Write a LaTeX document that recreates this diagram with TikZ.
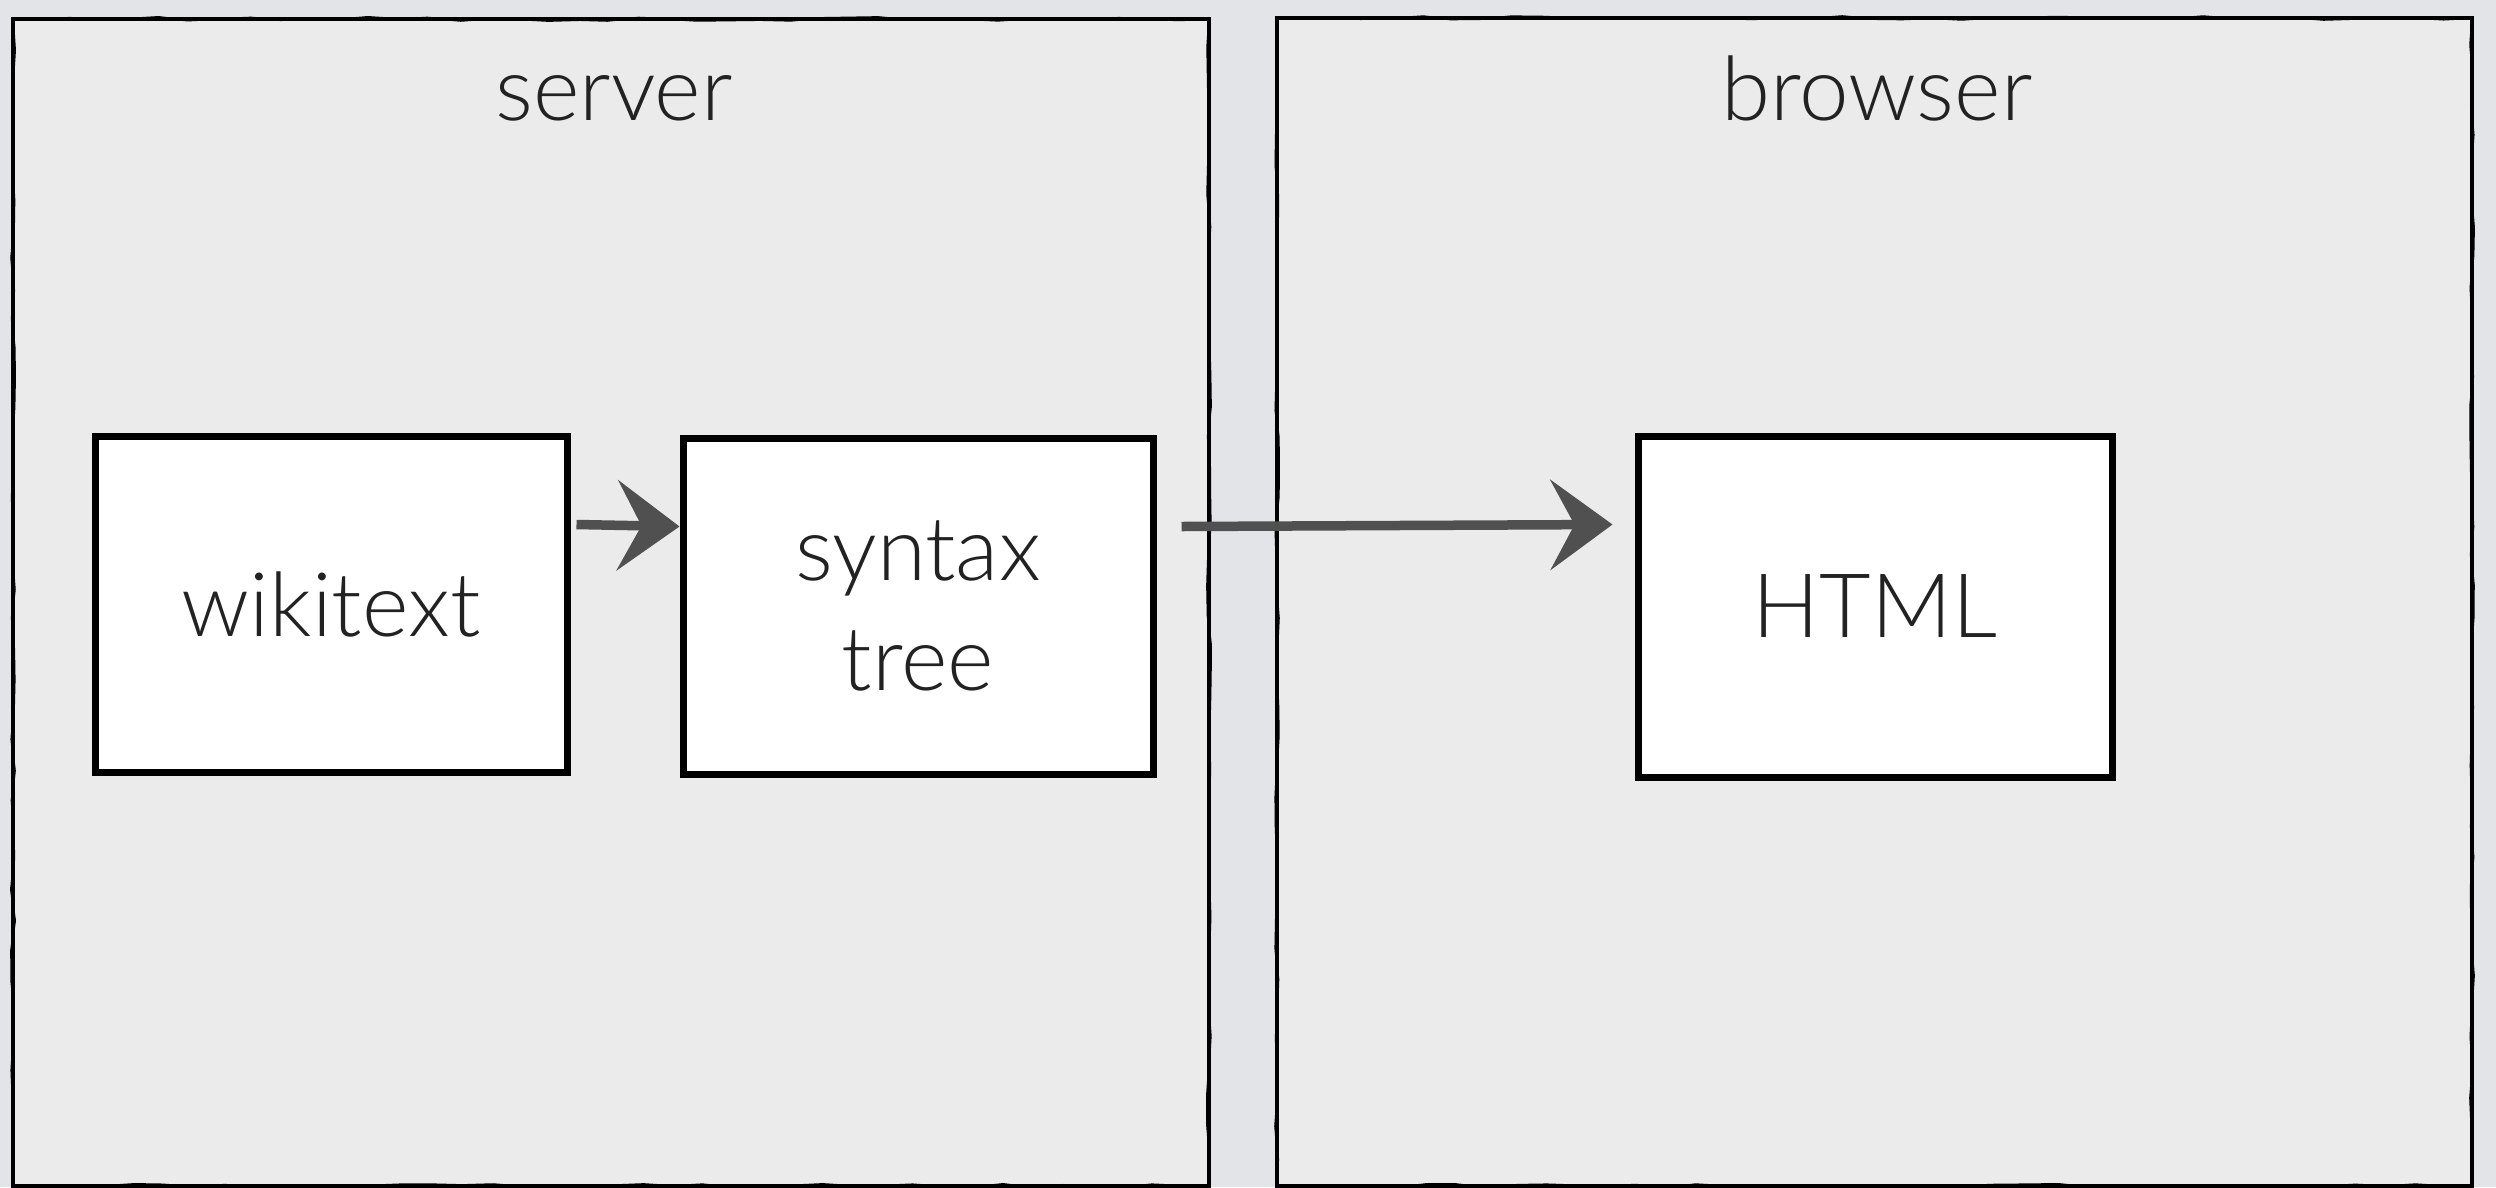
\documentclass[tikz,border=0pt]{standalone}
\usepackage{fontspec}
\setmainfont{Lato Light}
\usetikzlibrary{arrows.meta,decorations.pathmorphing}
\definecolor{bgc}{RGB}{226,228,232}
\definecolor{panelc}{RGB}{235,235,235}
\definecolor{arrowc}{RGB}{80,80,80}
\definecolor{textc}{RGB}{34,34,34}
\pgfmathsetseed{7}
\tikzset{
  rough/.style={postaction={draw=black, line width=2pt, decorate,
      decoration={random steps, segment length=30pt, amplitude=2pt}}},
  panel/.style={fill=panelc, draw=black, line width=4.5pt, rough, inner sep=0pt},
  stepbox/.style={draw=black, fill=white, line width=7pt, rough, text=textc,
      font=\fontsize{89}{110}\selectfont, align=center, inner sep=0pt},
  titletext/.style={text=textc, font=\fontsize{89}{110}\selectfont, inner sep=0pt},
  flow/.style={draw=arrowc, line width=9.5pt,
      -{Stealth[length=62pt, width=90pt, inset=24pt]}},
}
\begin{document}
\begin{tikzpicture}[x=1pt,y=-1pt]
  \useasboundingbox (0,0) rectangle (2496,1187);
  \fill[bgc] (0,0) rectangle (2496,1187);
  % panels
  \node[panel, minimum width=1196pt, minimum height=1167pt] (srv) at (611,602.5) {};
  \node[panel, minimum width=1195pt, minimum height=1168pt] (brw) at (1874.5,602) {};
  % titles
  \node[titletext, anchor=base] (srvt) at (614,120) {server};
  \node[titletext, anchor=base] (brwt) at (1877,120) {browser};
  % boxes
  \node[stepbox, minimum width=472pt, minimum height=336pt] (wiki) at (331,604) {wikitext};
  \node[stepbox, minimum width=470pt, minimum height=336pt] (syn) at (918,606) {syntax\\tree};
  \node[stepbox, minimum width=474pt, minimum height=341pt] (html) at (1875,606.5) {HTML};
  % arrows
  \draw[flow] ([xshift=6pt,yshift=-92pt]wiki.north east) -- ([yshift=-92pt]syn.north west);
  \draw[flow] ([xshift=25pt,yshift=-92pt]syn.north east) -- ([xshift=-22pt,yshift=-92pt]html.north west);
\end{tikzpicture}
\end{document}
